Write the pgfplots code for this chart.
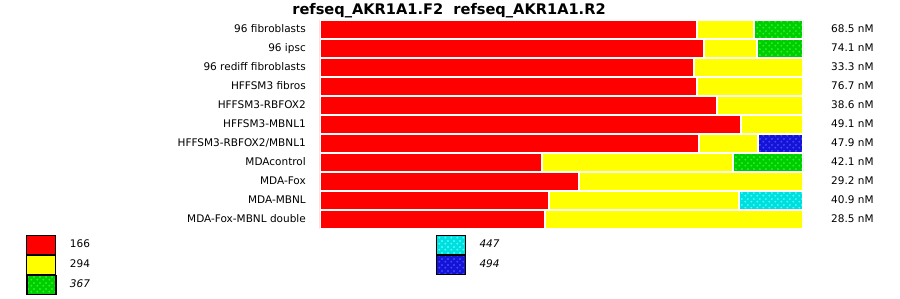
\documentclass[border=0pt]{standalone}
\usepackage{pgfplots}
\pgfplotsset{compat=1.18}
\usepackage{pgfplotstable}
\usepackage{fontspec}
\setmainfont{DejaVu Sans}
\usetikzlibrary{patterns}
\pgfdeclarepatternformonly{plusdots}{\pgfqpoint{0pt}{0pt}}{\pgfqpoint{6pt}{6pt}}{\pgfqpoint{6pt}{6pt}}{%
  \pgfpathcircle{\pgfqpoint{1.5pt}{1.5pt}}{1.2pt}%
  \pgfpathcircle{\pgfqpoint{4.5pt}{4.5pt}}{1.2pt}%
  \pgfusepath{fill}}
\definecolor{c166}{RGB}{255,0,0}
\definecolor{c294}{RGB}{255,255,0}
\definecolor{c367}{RGB}{0,205,0}
\definecolor{p367}{RGB}{40,245,40}
\definecolor{c447}{RGB}{0,222,222}
\definecolor{p447}{RGB}{70,255,255}
\definecolor{c494}{RGB}{20,20,215}
\definecolor{p494}{RGB}{70,70,255}
\newcommand{\lbl}{\fontsize{10.5}{12}\selectfont}

\pgfplotstableread{
row a b c d e
0 78.0 11.8 10.2 0 0
1 79.4 11.0 9.6 0 0
2 77.5 22.5 0 0 0
3 78.0 22.0 0 0 0
4 82.1 17.9 0 0 0
5 87.1 12.9 0 0 0
6 78.4 12.3 0 0 9.3
7 45.9 39.7 14.4 0 0
8 53.6 46.4 0 0 0
9 47.4 39.3 0 13.3 0
10 46.6 53.4 0 0 0
}\datatable

\begin{document}
\begin{tikzpicture}
\useasboundingbox (0,0) rectangle (900pt,299pt);
\node[anchor=base, inner sep=0pt, font={\fontsize{14.6}{16}\selectfont\bfseries}] at (449pt,284pt) {refseq\_AKR1A1.F2\ \ refseq\_AKR1A1.R2};
\begin{axis}[
  at={(320pt,70.3pt)}, anchor=south west,
  scale only axis, width=483pt, height=209pt,
  xbar stacked, bar width=19pt,
  xmin=0, xmax=100, ymin=-0.5, ymax=10.5,
  y dir=reverse,
  axis line style={draw=none},
  tick style={draw=none}, major tick length=0pt,
  xtick=\empty,
  ytick={0,...,10},
  yticklabels={96 fibroblasts, 96 ipsc, 96 rediff fibroblasts, HFFSM3 fibros, HFFSM3-RBFOX2, HFFSM3-MBNL1, HFFSM3-RBFOX2/MBNL1, MDAcontrol, MDA-Fox, MDA-MBNL, MDA-Fox-MBNL double},
  yticklabel style={font=\lbl, anchor=base east, inner sep=0pt, xshift=-14pt, yshift=-3.8pt},
  legend columns=2,
  legend cell align=left,
  legend style={at={(axis description cs:-0.6077,-0.0278)}, anchor=north west,
    draw=none, fill=none, inner sep=0pt, outer sep=0pt, font=\lbl,
    nodes={inner sep=0pt},
    /tikz/every odd column/.append style={column sep=13.5pt},
    /tikz/every even column/.append style={column sep=346pt},
    row sep=0pt},
]
\addplot[fill=c166, draw=white, line width=2pt, forget plot] table[x=a, y=row] {\datatable};
\addplot[fill=c294, draw=white, line width=2pt, forget plot] table[x=b, y=row] {\datatable};
\addplot[preaction={fill=c367}, pattern=plusdots, pattern color=p367, draw=white, line width=2pt, forget plot] table[x=c, y=row] {\datatable};
\addplot[preaction={fill=c447}, pattern=plusdots, pattern color=p447, draw=white, line width=2pt, forget plot] table[x=d, y=row] {\datatable};
\addplot[preaction={fill=c494}, pattern=plusdots, pattern color=p494, draw=white, line width=2pt, forget plot] table[x=e, y=row] {\datatable};

\addlegendimage{legend image code/.code={\draw[fill=c166, draw=black, line width=1pt] (0pt,-9.5pt) rectangle (29pt,9.5pt);}}
\addlegendentry{166}
\addlegendimage{legend image code/.code={\fill[c447] (0pt,-9.5pt) rectangle (29pt,9.5pt); \fill[pattern=plusdots, pattern color=p447] (0pt,-9.5pt) rectangle (29pt,9.5pt); \draw[black, line width=1pt] (0pt,-9.5pt) rectangle (29pt,9.5pt);}}
\addlegendentry{\itshape 447}
\addlegendimage{legend image code/.code={\draw[fill=c294, draw=black, line width=1pt] (0pt,-9.5pt) rectangle (29pt,9.5pt);}}
\addlegendentry{294}
\addlegendimage{legend image code/.code={\fill[c494] (0pt,-9.5pt) rectangle (29pt,9.5pt); \fill[pattern=plusdots, pattern color=p494] (0pt,-9.5pt) rectangle (29pt,9.5pt); \draw[black, line width=1pt] (0pt,-9.5pt) rectangle (29pt,9.5pt);}}
\addlegendentry{\itshape 494}
\addlegendimage{legend image code/.code={\fill[c367] (0pt,-9.5pt) rectangle (29pt,9.5pt); \fill[pattern=plusdots, pattern color=p367] (0pt,-9.5pt) rectangle (29pt,9.5pt); \draw[black, line width=1pt] (0pt,-9.5pt) rectangle (29pt,9.5pt);}}
\addlegendentry{\itshape 367}
\end{axis}
\begin{axis}[
  at={(320pt,70.3pt)}, anchor=south west,
  scale only axis, width=483pt, height=209pt,
  xmin=0, xmax=1, ymin=-0.5, ymax=10.5,
  y dir=reverse,
  hide x axis,
  axis y line*=right,
  axis line style={draw=none},
  tick style={draw=none}, major tick length=0pt,
  ytick={0,...,10},
  yticklabels={68.5 nM, 74.1 nM, 33.3 nM, 76.7 nM, 38.6 nM, 49.1 nM, 47.9 nM, 42.1 nM, 29.2 nM, 40.9 nM, 28.5 nM},
  yticklabel style={font=\lbl, anchor=base west, inner sep=0pt, xshift=28pt, yshift=-3.8pt},
]
\addplot[draw=none] coordinates {(0,0) (1,10)};
\end{axis}
\end{tikzpicture}
\end{document}
